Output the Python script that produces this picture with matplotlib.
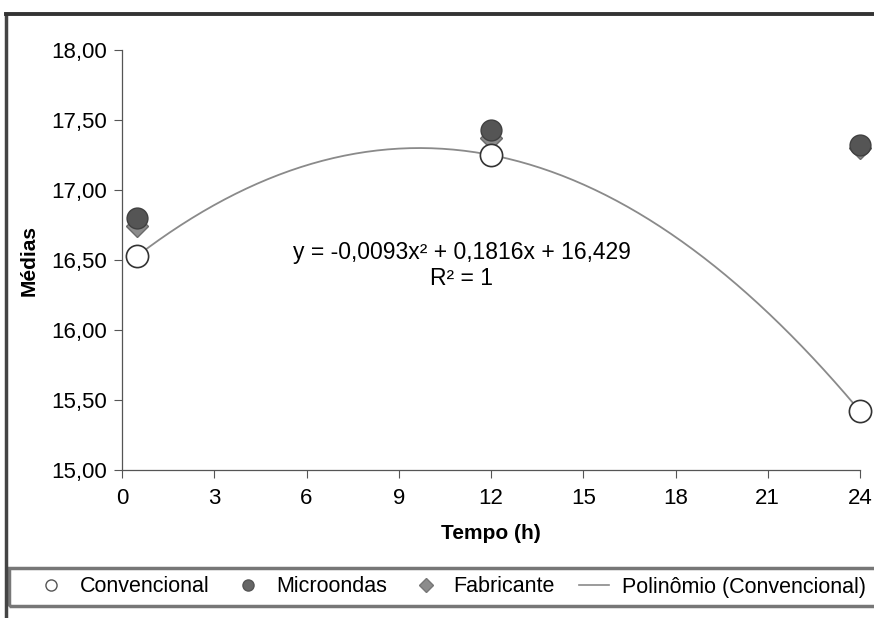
import numpy as np
import matplotlib
matplotlib.use("Agg")
import matplotlib.pyplot as plt
from matplotlib.lines import Line2D
from matplotlib.patches import Rectangle

plt.rcParams['font.family'] = ['Liberation Sans', 'DejaVu Sans']

tempo = [0.5, 12, 24]
convencional = [16.53, 17.25, 15.42]
microondas = [16.80, 17.43, 17.32]
fabricante = [16.74, 17.37, 17.30]
xticks = [0, 3, 6, 9, 12, 15, 18, 21, 24]
yticks = [15.0, 15.5, 16.0, 16.5, 17.0, 17.5, 18.0]
eq_text = "y = -0,0093x² + 0,1816x + 16,429\nR² = 1"

W, H = 874, 618
fig = plt.figure(figsize=(W/100, H/100), dpi=100)
ax = fig.add_axes([122/W, 1-470/H, (860-122)/W, (470-50)/H])

coef = np.polyfit(tempo, convencional, 2)
xs = np.linspace(tempo[0], tempo[-1], 200)
ax.plot(xs, np.polyval(coef, xs), color='#8a8a8a', lw=1.3, zorder=1)

ax.plot(tempo, fabricante, ls='none', marker='D', ms=11, mfc='#8c8c8c', mec='#6a6a6a',
        zorder=2, clip_on=False)
ax.plot(tempo, microondas, ls='none', marker='o', ms=15, mfc='#555555', mec='#404040',
        zorder=3, clip_on=False)
ax.plot(tempo, convencional, ls='none', marker='o', ms=16, mfc='white', mec='#333333',
        mew=1.2, zorder=4, clip_on=False)

ax.set_xlim(0, 24)
ax.set_ylim(15, 18)
ax.set_xticks(xticks)
ax.set_xticklabels([str(t) for t in xticks])
ax.set_yticks(yticks)
ax.set_yticklabels([f"{v:.2f}".replace('.', ',') for v in yticks])
for s in ['top', 'right']:
    ax.spines[s].set_visible(False)
for s in ['left', 'bottom']:
    ax.spines[s].set_color('#555555')
    ax.spines[s].set_linewidth(0.9)
ax.tick_params(axis='both', labelsize=16, length=6, color='#555555', pad=5)
ax.tick_params(axis='x', pad=7)
ax.set_xlabel("Tempo (h)", fontsize=15, fontweight='bold', labelpad=11)
ax.set_ylabel("Médias", fontsize=15, fontweight='bold', labelpad=9)

ax.text(11.05, 16.46, eq_text, ha='center', va='center', fontsize=16.5, linespacing=1.15)

# outer frame: left and top lines
fig.add_artist(Line2D([6/W, 6/W], [0, 1-14/H], transform=fig.transFigure,
                      color='#444444', lw=2.5))
fig.add_artist(Line2D([6/W, 1], [1-14/H, 1-14/H], transform=fig.transFigure,
                      color='#333333', lw=2.8))

# legend
handles = [
    Line2D([], [], ls='none', marker='o', ms=8, mfc='white', mec='#555555'),
    Line2D([], [], ls='none', marker='o', ms=8, mfc='#666666', mec='#555555'),
    Line2D([], [], ls='none', marker='D', ms=7, mfc='#8c8c8c', mec='#777777'),
    Line2D([], [], color='#8a8a8a', lw=1.2),
]
labels = ["Convencional", "Microondas", "Fabricante", "Polinômio (Convencional)"]
leg = fig.legend(handles, labels, loc='center', bbox_to_anchor=(451/W, 1-587/H), ncol=4,
                 fontsize=15.5, frameon=False, handlelength=1.4, handletextpad=0.6,
                 columnspacing=1.1)
fig.add_artist(Rectangle((9/W, 1-606/H), (W-9)/W + 0.01, 38/H, transform=fig.transFigure,
                         fill=False, ec='#777777', lw=2.5))

fig.savefig("out.png", dpi=100)
